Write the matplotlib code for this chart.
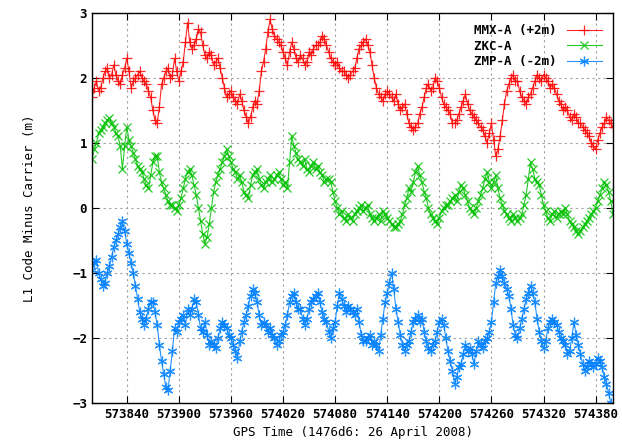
import numpy as np
import matplotlib.pyplot as plt

# GPS time, 2.5 s steps
t = np.arange(573800, 574400.1, 2.5)

mmx = [1.70, 1.85, 1.95, 1.80, 1.85, 2.00, 2.10, 2.15, 2.00, 2.05,
       2.20, 2.05, 1.95, 1.90, 2.05, 2.15, 2.30, 2.10, 1.85, 1.95,
       2.00, 2.05, 2.10, 2.00, 1.95, 1.90, 1.80, 1.70, 1.50, 1.35,
       1.30, 1.55, 1.90, 2.00, 2.10, 2.15, 2.00, 2.05, 2.30, 2.10,
       1.95, 2.10, 2.25, 2.55, 2.85, 2.55, 2.45, 2.50, 2.60, 2.75,
       2.70, 2.50, 2.35, 2.30, 2.40, 2.35, 2.20, 2.25, 2.30, 2.15,
       2.00, 1.85, 1.70, 1.75, 1.80, 1.70, 1.65, 1.60, 1.75, 1.65,
       1.50, 1.40, 1.30, 1.40, 1.55, 1.65, 1.60, 1.80, 2.10, 2.25,
       2.45, 2.70, 2.90, 2.75, 2.65, 2.60, 2.55, 2.50, 2.40, 2.30,
       2.20, 2.40, 2.55, 2.45, 2.30, 2.25, 2.35, 2.30, 2.20, 2.25,
       2.40, 2.35, 2.45, 2.50, 2.50, 2.55, 2.65, 2.60, 2.50, 2.40,
       2.30, 2.25, 2.20, 2.25, 2.15, 2.10, 2.10, 2.05, 2.00, 2.05,
       2.10, 2.15, 2.30, 2.45, 2.50, 2.55, 2.60, 2.50, 2.40, 2.20,
       2.00, 1.85, 1.75, 1.70, 1.65, 1.75, 1.80, 1.75, 1.70, 1.65,
       1.75, 1.60, 1.50, 1.55, 1.60, 1.45, 1.30, 1.25, 1.20, 1.25,
       1.30, 1.45, 1.55, 1.70, 1.85, 1.90, 1.80, 1.85, 2.00, 1.95,
       1.85, 1.70, 1.60, 1.55, 1.50, 1.45, 1.30, 1.30, 1.35, 1.45,
       1.55, 1.65, 1.75, 1.60, 1.50, 1.45, 1.40, 1.35, 1.30, 1.25,
       1.20, 1.10, 1.00, 1.15, 1.30, 1.05, 0.80, 0.90, 1.10, 1.35,
       1.60, 1.80, 1.90, 2.00, 2.05, 1.95, 1.95, 1.80, 1.70, 1.65,
       1.60, 1.70, 1.75, 1.85, 1.95, 2.05, 2.00, 1.95, 2.05, 2.00,
       1.95, 1.85, 1.90, 1.85, 1.75, 1.65, 1.60, 1.50, 1.55, 1.50,
       1.40, 1.35, 1.45, 1.40, 1.30, 1.30, 1.25, 1.20, 1.15, 1.10,
       1.00, 0.95, 0.90, 1.05, 1.15, 1.25, 1.30, 1.40, 1.35, 1.30,
       1.25]

zkc = [0.75, 0.90, 1.00, 1.15, 1.20, 1.25, 1.30, 1.35, 1.38, 1.30,
       1.25, 1.15, 1.10, 0.95, 0.60, 0.95, 1.25, 1.05, 0.95, 0.85,
       0.75, 0.65, 0.60, 0.55, 0.45, 0.35, 0.30, 0.50, 0.70, 0.80,
       0.80, 0.55, 0.40, 0.30, 0.20, 0.10, 0.05, 0.05, 0.00, -0.05,
       0.05, 0.15, 0.30, 0.45, 0.55, 0.60, 0.50, 0.35, 0.20, 0.00,
       -0.20, -0.40, -0.55, -0.45, -0.25, 0.00, 0.25, 0.40, 0.50, 0.60,
       0.70, 0.80, 0.90, 0.80, 0.70, 0.60, 0.55, 0.45, 0.50, 0.40,
       0.25, 0.20, 0.15, 0.35, 0.50, 0.55, 0.60, 0.45, 0.35, 0.30,
       0.40, 0.45, 0.50, 0.40, 0.45, 0.50, 0.55, 0.45, 0.35, 0.40,
       0.30, 0.70, 1.10, 0.95, 0.85, 0.75, 0.70, 0.65, 0.75, 0.60,
       0.55, 0.65, 0.70, 0.60, 0.65, 0.55, 0.50, 0.40, 0.45, 0.45,
       0.40, 0.25, 0.10, 0.00, -0.10, -0.05, -0.15, -0.20, -0.10, -0.15,
       -0.20, -0.10, -0.05, 0.00, 0.05, -0.05, 0.00, 0.05, -0.10, -0.15,
       -0.20, -0.15, -0.10, -0.20, -0.05, -0.10, -0.15, -0.20, -0.25, -0.30,
       -0.30, -0.25, -0.20, -0.10, 0.05, 0.15, 0.30, 0.25, 0.40, 0.55,
       0.65, 0.50, 0.40, 0.25, 0.15, 0.00, -0.10, -0.15, -0.20, -0.25,
       -0.15, -0.05, 0.00, 0.05, 0.05, 0.10, 0.15, 0.20, 0.10, 0.25,
       0.35, 0.30, 0.20, 0.10, 0.00, -0.05, -0.10, 0.00, 0.10, 0.20,
       0.30, 0.45, 0.55, 0.40, 0.30, 0.40, 0.50, 0.30, 0.15, 0.05,
       -0.05, -0.10, -0.15, -0.20, -0.10, -0.15, -0.20, -0.15, -0.10, 0.05,
       0.20, 0.45, 0.70, 0.60, 0.45, 0.40, 0.35, 0.20, 0.05, -0.05,
       -0.15, -0.20, -0.10, -0.05, -0.15, -0.10, -0.05, -0.10, 0.00, -0.10,
       -0.20, -0.25, -0.30, -0.35, -0.40, -0.35, -0.30, -0.25, -0.20, -0.15,
       -0.10, -0.05, 0.00, 0.10, 0.20, 0.30, 0.40, 0.35, 0.25, 0.10,
       -0.10]

zmp = [-0.95, -0.85, -0.80, -1.00, -1.10, -1.20, -1.15, -1.00, -0.90, -0.75,
       -0.60, -0.50, -0.40, -0.30, -0.20, -0.35, -0.55, -0.70, -0.85, -1.00,
       -1.20, -1.40, -1.60, -1.70, -1.80, -1.70, -1.55, -1.45, -1.45, -1.60,
       -1.80, -2.10, -2.35, -2.55, -2.75, -2.80, -2.50, -2.20, -1.85, -1.90,
       -1.75, -1.70, -1.65, -1.80, -1.55, -1.65, -1.55, -1.40, -1.45, -1.65,
       -1.85, -1.90, -1.75, -1.95, -2.10, -2.05, -2.10, -2.15, -2.00, -1.85,
       -1.75, -1.80, -1.85, -1.95, -2.00, -2.10, -2.20, -2.30, -2.05, -1.90,
       -1.75, -1.65, -1.50, -1.35, -1.25, -1.30, -1.45, -1.65, -1.80, -1.75,
       -1.80, -1.90, -1.85, -1.95, -2.00, -2.10, -2.05, -1.95, -1.90, -1.80,
       -1.65, -1.45, -1.35, -1.30, -1.45, -1.55, -1.55, -1.70, -1.80, -1.70,
       -1.55, -1.45, -1.40, -1.35, -1.30, -1.45, -1.60, -1.70, -1.75, -1.90,
       -2.00, -1.85, -1.75, -1.50, -1.30, -1.40, -1.50, -1.60, -1.50, -1.55,
       -1.60, -1.65, -1.55, -1.75, -1.95, -2.05, -2.05, -2.00, -1.95, -2.10,
       -2.05, -2.10, -2.20, -1.95, -1.70, -1.45, -1.30, -1.15, -1.00, -1.25,
       -1.55, -1.75, -1.95, -2.10, -2.20, -2.10, -2.05, -1.90, -1.75, -1.70,
       -1.65, -1.75, -1.70, -1.90, -2.05, -2.15, -2.20, -2.10, -2.05, -1.90,
       -1.75, -1.70, -1.80, -2.00, -2.20, -2.35, -2.50, -2.70, -2.60, -2.45,
       -2.40, -2.25, -2.10, -2.20, -2.15, -2.25, -2.40, -2.20, -2.05, -2.10,
       -2.15, -2.05, -2.00, -1.90, -1.75, -1.45, -1.15, -1.05, -0.95, -1.05,
       -1.15, -1.25, -1.35, -1.55, -1.80, -1.95, -2.00, -1.85, -1.70, -1.55,
       -1.40, -1.30, -1.20, -1.30, -1.45, -1.70, -1.90, -2.05, -2.15, -2.05,
       -1.85, -1.75, -1.70, -1.75, -1.80, -1.90, -2.00, -2.05, -2.10, -2.25,
       -2.20, -2.00, -1.75, -1.95, -2.10, -2.25, -2.40, -2.50, -2.45, -2.35,
       -2.40, -2.45, -2.40, -2.30, -2.35, -2.45, -2.60, -2.70, -2.85, -3.00,
       -3.20]

plt.rcParams['font.family'] = 'DejaVu Sans Mono'
plt.rcParams['font.weight'] = 'bold'

fig = plt.figure(figsize=(6.22, 4.47), dpi=100)
ax = fig.add_axes([0.148, 0.0984, 0.8375, 0.8726])

# monospace font: pad labels so the text column is left aligned
ax.plot(t, mmx, color='#ff0000', lw=0.8, marker='+', ms=7, mew=0.9, alpha=0.85, label='MMX-A (+2m)')
ax.plot(t, zkc, color='#00c000', lw=0.8, marker='x', ms=6, mew=0.9, alpha=0.85, label='ZKC-A' + '\u00a0' * 6)
ax.plot(t, zmp, color='#0080ff', lw=0.8, marker=(6, 2, 0), ms=7, mew=0.9, alpha=0.85, label='ZMP-A (-2m)')

ax.set_xlim(573800, 574400)
ax.set_ylim(-3, 3)
ax.set_xticks(np.arange(573840, 574381, 60))
ax.set_yticks(np.arange(-3, 4, 1))
ax.tick_params(direction='in', top=True, right=True, labelsize=9, length=5)
ax.grid(True, color='#a0a0a0', linestyle=(0, (2, 3)), lw=0.8)
ax.set_xlabel('GPS Time (1476d6: 26 April 2008)', fontsize=9)
ax.set_ylabel('L1 Code Minus Carrier (m)', fontsize=9, labelpad=26)
for s in ax.spines.values():
    s.set_linewidth(1.0)

leg = ax.legend(loc='upper right', frameon=False, markerfirst=False, fontsize=9,
                handlelength=2.8, borderaxespad=0.5, labelspacing=0.2)

fig.savefig('out.png', dpi=100)
